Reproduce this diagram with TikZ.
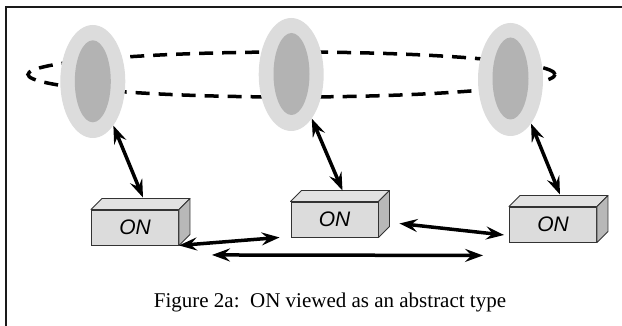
\documentclass[tikz,border=0pt]{standalone}
\usepackage{fontspec}
\setmainfont{Liberation Serif}
\newfontfamily\arialfont{Liberation Sans}
\usetikzlibrary{arrows.meta,shapes.geometric}

\definecolor{ringlight}{HTML}{DCDCDC}
\definecolor{coredark}{HTML}{B3B3B3}
\definecolor{boxfront}{HTML}{DCDCDC}
\definecolor{boxtop}{HTML}{E2E2E2}
\definecolor{boxside}{HTML}{B8B8B8}
\definecolor{edgegray}{HTML}{333333}
\definecolor{framegray}{HTML}{1A1A1A}

\begin{document}
\begin{tikzpicture}[x=1pt,y=-1pt,
  outerring/.style={ellipse, fill=ringlight, minimum width=65pt, minimum height=113pt, inner sep=0pt},
  innercore/.style={ellipse, fill=coredark, minimum width=36pt, minimum height=82pt, inner sep=0pt},
  orbit/.style={ellipse, draw=black, line width=3.5pt, dash pattern=on 14pt off 9pt,
    minimum width=527pt, minimum height=45pt, inner sep=0pt},
  onbox/.style={rectangle, draw=edgegray, line width=0.9pt, fill=boxfront,
    minimum width=87pt, minimum height=35pt, inner sep=0pt,
    font=\arialfont\itshape\fontsize{21}{25}\selectfont},
  boxface/.style={draw=edgegray, line width=0.9pt, line join=round},
  link/.style={line width=3.5pt,
    {Stealth[length=18pt,width=13pt,inset=6.5pt]}-{Stealth[length=18pt,width=13pt,inset=6.5pt]}},
  caption/.style={font=\fontsize{21}{25}\selectfont, anchor=base}
]
\useasboundingbox (0,0) rectangle (622,326);

% frame around the figure
\draw[framegray, line width=2pt] (6,340) -- (6,7) -- (640,7);

% ring joining the three objects
\node[orbit] (ring) at (291.5,74.5) {};

% abstract objects
\node[outerring] (e1) at (92.8,81.5) {};
\node[innercore] (c1) at (92.8,81.3) {};
\node[outerring] (e2) at (291.2,74.5) {};
\node[innercore] (c2) at (291.5,74) {};
\node[outerring] (e3) at (510.5,79.5) {};
\node[innercore] (c3) at (510.5,78.5) {};

% ON boxes
\node[onbox] (b1) at (135,227.5) {ON};
\node[onbox] (b2) at (334.5,219.5) {ON};
\node[onbox] (b3) at (553,224.5) {ON};

\foreach \b in {b1,b2,b3}{
  \filldraw[boxface, fill=boxtop] (\b.north west) -- ++(11,-11)
    -- ([shift={(11,-11)}]\b.north east) -- (\b.north east) -- cycle;
  \filldraw[boxface, fill=boxside] (\b.north east) -- ++(11,-11)
    -- ([shift={(11,-11)}]\b.south east) -- (\b.south east) -- cycle;
}

% vertical links
\draw[link] (e1.-65) -- ([shift={(8,-12)}]b1.north);
\draw[link] (e2.-65) -- ([shift={(8,-11)}]b2.north);
\draw[link] (e3.-65) -- ([shift={(7,-12)}]b3.north);

% links between the boxes
\draw[link] (b1.south east) -- ([shift={(-11,0)}]b2.south west);
\draw[link] ([shift={(21,4)}]b2.east) -- ([shift={(-5,10.5)}]b3.west);
\draw[link] ([shift={(33,9.5)}]b1.south east) -- ([shift={(-26,13)}]b3.south west);

% caption
\node[caption] (cap) at (330,307) {Figure 2a:\ \ ON viewed as an abstract type};
\end{tikzpicture}
\end{document}
